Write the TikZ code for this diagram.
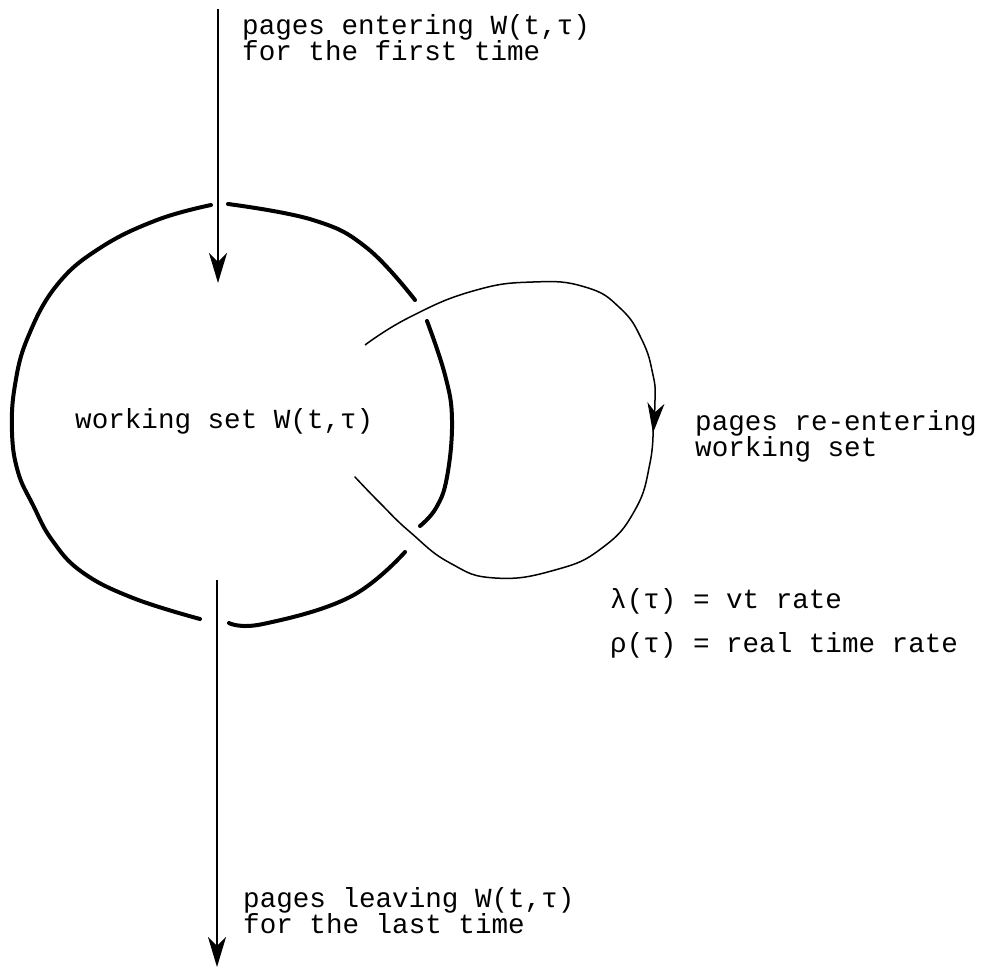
\documentclass[tikz,border=0pt]{standalone}
\usepackage{fontspec}
\setmonofont{Liberation Mono}
\usetikzlibrary{arrows.meta}
\begin{document}
\begin{tikzpicture}[x=1pt,y=-1pt,
  lbl/.style={font=\ttfamily\fontsize{27.6}{26}\selectfont, anchor=base west, align=left, inner sep=0pt},
  ws/.style={line width=4pt, line cap=round},
  flow/.style={line width=2pt, -{Stealth[length=30pt,width=18pt,inset=9pt]}},
  loopline/.style={line width=1.5pt, line cap=round},
  looparrow/.style={line width=1.5pt, -{Stealth[length=30pt,width=17pt,inset=9pt]}}]
\useasboundingbox (0,0) rectangle (989,971);
% working set (thick broken circle)
\draw[ws] plot[smooth,tension=0.7] coordinates {(211,205) (157,220) (100,248) (57,285) (28,337) (15,385) (12,432) (18,472) (33,505) (52,540) (82,572) (133,598) (200,619)};
\draw[ws] plot[smooth,tension=0.7] coordinates {(228,204) (313,220) (367,248) (415,300)};
\draw[ws] plot[smooth,tension=0.7] coordinates {(427,321) (445,375) (452,420) (447,477) (436,508) (420,526)};
\draw[ws] plot[smooth,tension=0.7] coordinates {(229,623) (263,624) (350,597) (405,552)};
% coordinates for connectors
\coordinate (inTop) at (218,9);
\coordinate (inTip) at (218,283);
\coordinate (outTop) at (217,580);
\coordinate (outTip) at (217,967);
% entering / leaving arrows
\draw[flow] (inTop) -- (inTip);
\draw[flow] (outTop) -- (outTip);
% re-entering loop
\draw[looparrow] plot[smooth,tension=0.8] coordinates {(365,345) (410,317) (473,291) (533,282) (585,287) (620,308) (642,340) (653,375) (655,400) (653,433)};
\draw[loopline] plot[smooth,tension=0.8] coordinates {(653,425) (650,463) (635,510) (602,548) (555,570) (495,578) (450,563) (410,532) (380,503) (355,477)};
% labels (anchored at the baseline of the last line)
\node[lbl] (tEnter) at (242,61) {pages entering W(t,τ)\\for the first time};
\node[lbl] (tWS) at (75,428) {working set W(t,τ)};
\node[lbl] (tRe) at (695,456) {pages re-entering\\working set};
\node[lbl] (tLambda) at (610,608) {λ(τ) = vt rate};
\node[lbl] (tRho) at (610,652) {ρ(τ) = real time rate};
\node[lbl] (tLeave) at (243,933) {pages leaving W(t,τ)\\for the last time};
\end{tikzpicture}
\end{document}
